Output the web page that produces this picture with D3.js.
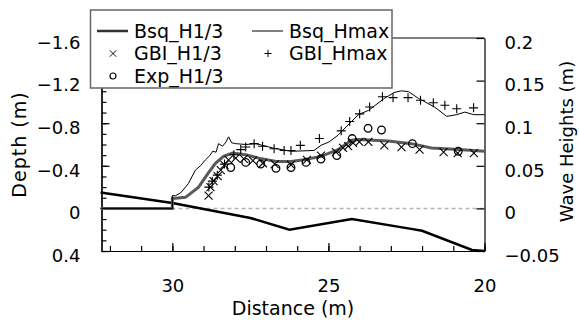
<!DOCTYPE html>
<html lang="en">
<head>
  <meta charset="UTF-8">
  <title>Wave Heights and Depth</title>
  <script src="https://d3js.org/d3.v7.min.js"></script>
  <style>
    body {
      margin: 0;
      background: #fff;
      font-family: "DejaVu Sans", sans-serif;
    }
    svg text {
      fill: #000;
    }
  </style>
</head>
<body>
  <div id="chart"></div>

  <script>
    // bottom profile (depth, m)
    const profileDist = [32.3, 30.0, 27.5, 26.25, 24.25, 22.4, 22.0, 20.4, 20.0];
    const profileDepth = [-0.15, -0.05, 0.09, 0.20, 0.10, 0.19, 0.21, 0.39, 0.40];

    // Boussinesq H1/3 (thick grey line)
    const bsqDist = [32.3, 30.0, 30.0, 29.9, 29.58, 29.16, 28.84, 28.62, 28.36, 28.07, 27.65, 27.23, 26.68, 26.2,
                     25.78, 25.24, 24.69, 24.27, 24.04, 23.08, 22.34, 21.7, 20.83, 20.0];
    const bsqH13 = [0, 0, 0.012, 0.012, 0.013, 0.025, 0.042, 0.053, 0.061, 0.065, 0.063, 0.059, 0.055, 0.055,
                    0.057, 0.061, 0.069, 0.080, 0.081, 0.079, 0.076, 0.071, 0.069, 0.067];

    // Boussinesq Hmax (thin line)
    const hmaxDist = [32.3, 30.0, 30.0, 29.9, 29.74, 29.49, 29.26, 29.1, 28.94, 28.8, 28.71, 28.6, 28.52, 28.39,
                      28.28, 28.2, 28.1, 27.97, 27.65, 27.33, 26.79, 26.2, 25.46, 25.24, 24.98, 24.69, 24.37,
                      24.04, 23.72, 23.21, 22.9, 22.66, 22.43, 22.11, 21.6, 21.21, 20.89, 20.63, 20.34, 20.0];
    const hmaxH = [0, 0, 0.015, 0.015, 0.018, 0.029, 0.045, 0.050, 0.057, 0.062, 0.067, 0.066, 0.076, 0.073,
                   0.078, 0.084, 0.077, 0.076, 0.075, 0.076, 0.071, 0.067, 0.068, 0.074, 0.078, 0.086, 0.098,
                   0.110, 0.115, 0.129, 0.136, 0.138, 0.137, 0.129, 0.119, 0.108, 0.110, 0.113, 0.110, 0.110];

    // GBI H1/3 (x markers)
    const gbiDist = [28.84, 28.78, 28.68, 28.55, 28.45, 28.33, 28.2, 27.97, 27.71, 27.42, 27.1, 26.72, 26.2,
                     25.69, 25.24, 24.76, 24.53, 24.37, 24.21, 24.01, 23.72, 23.21, 22.66, 22.08, 21.31, 20.86, 20.34];
    const gbiH13 = [0.015, 0.025, 0.032, 0.038, 0.045, 0.051, 0.057, 0.059, 0.058, 0.056, 0.053, 0.052, 0.051,
                    0.057, 0.062, 0.066, 0.071, 0.073, 0.077, 0.078, 0.078, 0.074, 0.072, 0.069, 0.066, 0.065, 0.065];

    // GBI Hmax (+ markers)
    const gbiMaxDist = [28.83, 28.72, 28.56, 28.33, 28.03, 27.81, 27.65, 27.38, 27.11, 26.74, 26.42, 26.2, 25.9,
                        25.29, 24.59, 24.32, 24.0, 23.68, 23.27, 22.93, 22.45, 22.05, 21.64, 21.27, 20.89, 20.35];
    const gbiHmax = [0.025, 0.032, 0.039, 0.052, 0.063, 0.069, 0.072, 0.076, 0.073, 0.070, 0.068, 0.068, 0.074,
                     0.082, 0.091, 0.102, 0.111, 0.119, 0.131, 0.130, 0.130, 0.127, 0.124, 0.121, 0.117, 0.118];

    // experiment H1/3 (circles)
    const expDist = [28.13, 27.65, 27.17, 26.68, 26.2, 25.72, 25.24, 24.73, 24.24, 23.73, 23.3, 22.31, 20.84];
    const expH13 = [0.048, 0.054, 0.052, 0.047, 0.048, 0.054, 0.058, 0.062, 0.082, 0.094, 0.092, 0.076, 0.067];

    const depthTicks = [-1.6, -1.2, -0.8, -0.4, 0, 0.4];
    const waveTicks = [0.2, 0.15, 0.1, 0.05, 0, -0.05];
    const distTicks = [30, 25, 20];

    const w = 579;
    const h = 324;
    const padL = 101.5, padR = 484.5, padT = 38, padB = 251;

    const svg = d3.select("#chart")
                  .append("svg")
                  .attr("width", w)
                  .attr("height", h);

    const xScale = d3.scaleLinear().domain([32.27, 20]).range([padL, padR]);
    const yDepth = d3.scaleLinear().domain([-1.6, 0.4]).range([padT, padB]);
    const yWave = d3.scaleLinear().domain([0.2, -0.05]).range([padT, padB]);

    // zero reference
    svg.append("line")
       .attr("x1", padL).attr("x2", padR)
       .attr("y1", yDepth(0)).attr("y2", yDepth(0))
       .attr("stroke", "#b4b4b4")
       .attr("stroke-width", 1.5)
       .attr("stroke-dasharray", "4,3");

    // axes
    const fmtDepth = d => d === 0 ? "0" : d3.format(".1f")(d);

    svg.append("g")
       .attr("transform", `translate(${padL},0)`)
       .call(d3.axisLeft(yDepth).tickValues(d3.range(-16, 5).map(v => v / 10))
               .tickSizeInner(-5).tickSizeOuter(0).tickFormat(""));

    svg.append("g")
       .attr("class", "axis")
       .attr("transform", `translate(${padL},0)`)
       .call(d3.axisLeft(yDepth).tickValues(depthTicks).tickSizeInner(-8).tickSizeOuter(0)
               .tickPadding(21).tickFormat(fmtDepth));

    svg.append("g")
       .attr("class", "axis")
       .attr("transform", `translate(${padR},0)`)
       .call(d3.axisRight(yWave).tickValues(waveTicks).tickSizeInner(-8).tickSizeOuter(0)
               .tickPadding(20).tickFormat(d3.format("~g")));

    svg.append("g")
       .attr("transform", `translate(0,${padB})`)
       .call(d3.axisBottom(xScale).tickValues(d3.range(20, 33)).tickSizeInner(-5).tickSizeOuter(0).tickFormat(""));

    svg.append("g")
       .attr("class", "axis xaxis")
       .attr("transform", `translate(0,${padB})`)
       .call(d3.axisBottom(xScale).tickValues(distTicks).tickSizeInner(-8).tickSizeOuter(0).tickPadding(28));

    svg.append("line")
       .attr("x1", padL).attr("x2", padR)
       .attr("y1", padT).attr("y2", padT)
       .attr("stroke", "#000");

    svg.selectAll(".axis text")
       .style("font-family", "'DejaVu Sans', sans-serif")
       .style("font-size", "18px");
    svg.selectAll(".axis:not(.xaxis) text").attr("dy", "0.57em");
    svg.selectAll("g path.domain, g .tick line").attr("stroke", "#000").attr("stroke-width", 1.2);

    // bottom profile
    const lineDepth = d3.line().x(d => xScale(d[0])).y(d => yDepth(d[1]));
    const lineWave = d3.line().x(d => xScale(d[0])).y(d => yWave(d[1]));

    svg.append("path")
       .datum(d3.zip(profileDist, profileDepth))
       .attr("d", lineDepth)
       .attr("fill", "none")
       .attr("stroke", "#000")
       .attr("stroke-width", 2.5);

    svg.append("path")
       .datum(d3.zip(bsqDist, bsqH13))
       .attr("d", lineWave)
       .attr("fill", "none")
       .attr("stroke", "#5a5a5a")
       .attr("stroke-width", 3);

    svg.append("path")
       .datum(d3.zip(hmaxDist, hmaxH))
       .attr("d", lineWave)
       .attr("fill", "none")
       .attr("stroke", "#000")
       .attr("stroke-width", 1);

    const crossPath = "M-4,-4L4,4M4,-4L-4,4";
    const plusPath = "M-4.5,0H4.5M0,-4.5V4.5";

    svg.selectAll(".gbi")
       .data(d3.zip(gbiDist, gbiH13))
       .enter()
       .append("path")
       .attr("class", "gbi")
       .attr("transform", d => `translate(${xScale(d[0])},${yWave(d[1])})`)
       .attr("d", crossPath)
       .attr("stroke", "#000")
       .attr("stroke-width", 1.1);

    svg.selectAll(".gbimax")
       .data(d3.zip(gbiMaxDist, gbiHmax))
       .enter()
       .append("path")
       .attr("class", "gbimax")
       .attr("transform", d => `translate(${xScale(d[0])},${yWave(d[1])})`)
       .attr("d", plusPath)
       .attr("stroke", "#000")
       .attr("stroke-width", 1.1);

    svg.selectAll(".exp")
       .data(d3.zip(expDist, expH13))
       .enter()
       .append("circle")
       .attr("class", "exp")
       .attr("cx", d => xScale(d[0]))
       .attr("cy", d => yWave(d[1]))
       .attr("r", 3.8)
       .attr("fill", "none")
       .attr("stroke", "#000")
       .attr("stroke-width", 1.3);

    // axis titles
    svg.append("text")
       .attr("x", (padL + padR) / 2)
       .attr("y", 315)
       .attr("text-anchor", "middle")
       .style("font-size", "19px")
       .text("Distance (m)");

    svg.append("text")
       .attr("transform", `translate(26,${(padT + padB) / 2}) rotate(-90)`)
       .attr("text-anchor", "middle")
       .style("font-size", "19px")
       .style("letter-spacing", "1px")
       .text("Depth (m)");

    svg.append("text")
       .attr("transform", `translate(573,${(padT + padB) / 2 - 3}) rotate(-90)`)
       .attr("text-anchor", "middle")
       .style("font-size", "18px")
       .text("Wave Heights (m)");

    // legend
    const legend = svg.append("g");
    legend.append("rect")
          .attr("x", 90.5).attr("y", 10)
          .attr("width", 301.5).attr("height", 78)
          .attr("fill", "#fff")
          .attr("stroke", "#666")
          .attr("stroke-width", 1.5);

    const items = [
      {name: "Bsq_H1/3", kind: "thick", col: 0, row: 0},
      {name: "Bsq_Hmax", kind: "thin", col: 1, row: 0},
      {name: "GBI_H1/3", kind: "cross", col: 0, row: 1},
      {name: "GBI_Hmax", kind: "plus", col: 1, row: 1},
      {name: "Exp_H1/3", kind: "circle", col: 0, row: 2}
    ];

    items.forEach(it => {
      const x0 = it.col === 0 ? 97 : 252;
      const y0 = 31 + it.row * 22.5;
      const g = legend.append("g").attr("transform", `translate(${x0},${y0})`);
      if (it.kind === "thick" || it.kind === "thin") {
        g.append("line").attr("x1", 0).attr("x2", 31).attr("y1", 0).attr("y2", 0)
         .attr("stroke", it.kind === "thick" ? "#333" : "#000")
         .attr("stroke-width", it.kind === "thick" ? 2.5 : 1);
      } else if (it.kind === "circle") {
        g.append("circle").attr("cx", 16).attr("cy", 0).attr("r", 3)
         .attr("fill", "none").attr("stroke", "#000").attr("stroke-width", 1.2);
      } else {
        g.append("path").attr("transform", "translate(16,0) scale(0.8)")
         .attr("d", it.kind === "cross" ? crossPath : plusPath)
         .attr("stroke", "#000").attr("stroke-width", 1.2);
      }
      g.append("text")
       .attr("x", 37)
       .attr("y", 0)
       .attr("dy", "0.36em")
       .style("font-size", "19px")
       .text(it.name);
    });
  </script>
</body>
</html>
